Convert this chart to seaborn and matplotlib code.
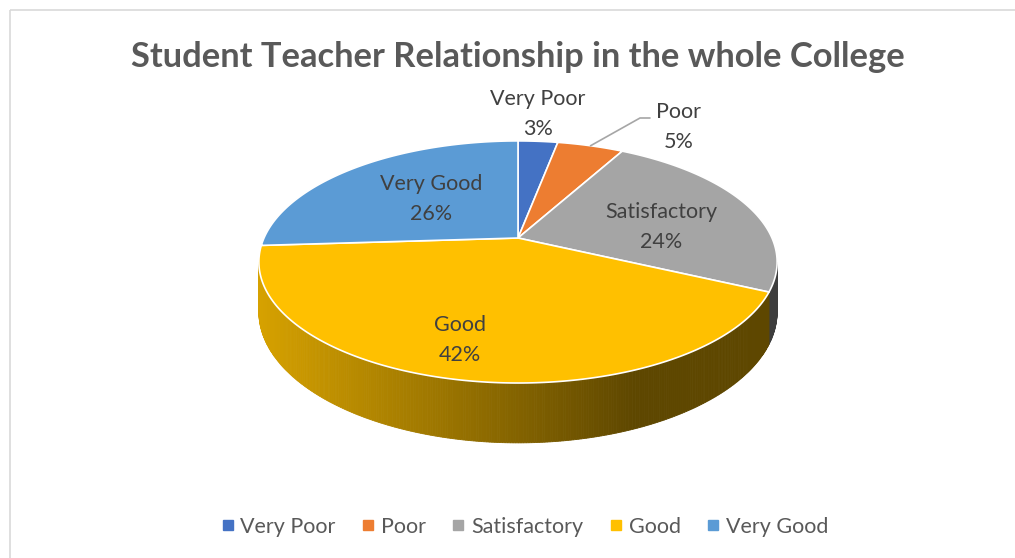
import numpy as np
import matplotlib.pyplot as plt
import seaborn as sns
from matplotlib.patches import Polygon, Rectangle
from matplotlib.lines import Line2D

categories = ["Very Poor", "Poor", "Satisfactory", "Good", "Very Good"]
shares = [3, 5, 24, 42, 26]
colors = ["#4472C4", "#ED7D31", "#A5A5A5", "#FFC000", "#5B9BD5"]

sns.set_theme(style="white")
plt.rcParams["font.family"] = ["Lato", "DejaVu Sans"]

fig = plt.figure(figsize=(10.15, 5.58), dpi=100)
ax = fig.add_axes([0, 0, 1, 1])
ax.set_xlim(0, 1015)
ax.set_ylim(558, 0)
ax.axis("off")

# chart frame
ax.add_patch(Rectangle((10, 10), 1020, 560, fill=False, ec="#d9d9d9", lw=1.2))

# perspective view of the tilted disc (angles clockwise from 12 o'clock)
cx, cy = 518, 238
A, B, k = 254, 116.3, 0.198
depth = 48


def project(phi, r=1.0):
    u = r * np.sin(phi)
    v = -r * np.cos(phi)
    w = 1 - k * v
    return cx + A * u / w, cy + B * v / w, w


def shade(c, x):
    s = np.clip((x - 259) / 518, 0, 1)
    f = max(0.37, 0.84 - 0.65 * s)
    rgb = np.array(plt.matplotlib.colors.to_rgb(c))
    return tuple(rgb * f)


frac = np.array(shares) / sum(shares)
edges = np.concatenate([[0], np.cumsum(frac)]) * 2 * np.pi
vis_lo, vis_hi = np.pi - np.arccos(k), np.pi + np.arccos(k)

# side wall (front half only)
for i, c in enumerate(colors):
    a0, a1 = max(edges[i], vis_lo), min(edges[i + 1], vis_hi)
    if a1 <= a0:
        continue
    ph = np.linspace(a0, a1, max(3, int((a1 - a0) * 120)))
    x, y, w = project(ph)
    yb = y + depth / w
    for j in range(len(ph) - 1):
        col = shade(c, (x[j] + x[j + 1]) / 2)
        quad = [(x[j], y[j]), (x[j + 1], y[j + 1]), (x[j + 1], yb[j + 1]), (x[j], yb[j])]
        ax.add_patch(Polygon(quad, closed=True, fc=col, ec=col, lw=0.6, zorder=2))

# top face
for i, c in enumerate(colors):
    ph = np.linspace(edges[i], edges[i + 1], 200)
    x, y, _ = project(ph)
    pts = [(cx, cy)] + list(zip(x, y))
    ax.add_patch(Polygon(pts, closed=True, fc=c, ec="white", lw=1.2, zorder=3))

# data labels (name line, percent line)
lab_kw = dict(ha="center", va="center", color="#404040", fontsize=15.5, zorder=5)
label_pos = {"Very Poor": (538, 114), "Poor": (679, 127), "Satisfactory": (661, 227),
             "Good": (460, 340), "Very Good": (431, 199)}
for name, v in zip(categories, shares):
    lx, ly = label_pos[name]
    ax.text(lx, ly - 15, name, **lab_kw)
    ax.text(lx, ly + 15, f"{v}%", **lab_kw)

# leader line for the small "Poor" slice
mid = (edges[1] + edges[2]) / 2
px, py, _ = project(mid)
ax.plot([px, 640, 650], [py, 118, 118], color="#a6a6a6", lw=1.2, zorder=4)

ax.text(518, 57, "Student Teacher Relationship in the whole College", ha="center",
        va="center", fontsize=24.8, fontweight="bold", color="#595959")

handles = [Line2D([], [], marker="s", ls="", color=c, markersize=6.5) for c in colors]
fig.legend(handles, categories, loc="center", bbox_to_anchor=(523 / 1015, 1 - 527 / 558),
           ncol=5, frameon=False, fontsize=15.5, handletextpad=0.15, columnspacing=1.05,
           labelcolor="#595959", handlelength=0.9)

fig.savefig("out.png", dpi=100)
